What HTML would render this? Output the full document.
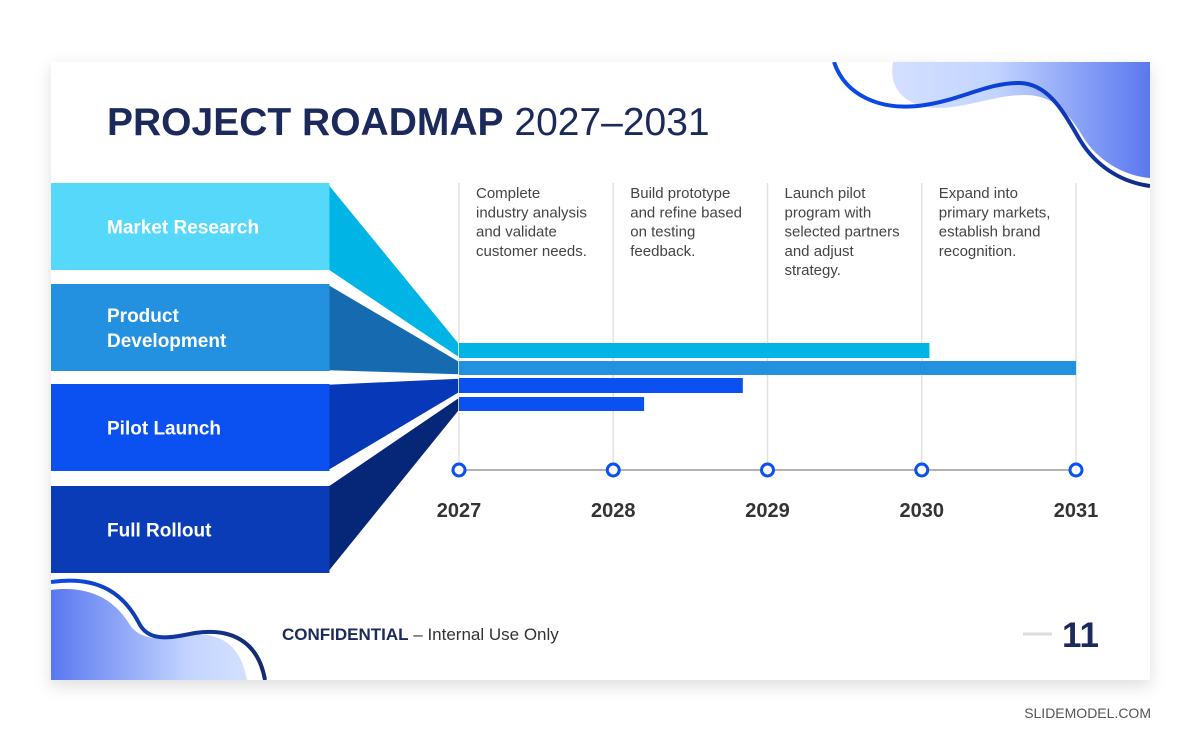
<!DOCTYPE html>
<html><head><meta charset="utf-8"><style>
body{margin:0;width:1200px;height:743px;background:#fff;overflow:hidden;font-family:"Liberation Sans",sans-serif}
svg{display:block}
</style></head><body>
<svg width="1200" height="743" viewBox="0 0 1200 743">
<defs>
<filter id="sh" x="-5%" y="-5%" width="110%" height="115%"><feDropShadow dx="0" dy="6" stdDeviation="8" flood-color="#000" flood-opacity="0.13"/></filter>
<linearGradient id="g1" x1="0" x2="1"><stop offset="0" stop-color="#d3e0ff"/><stop offset="0.4" stop-color="#c3d4ff"/><stop offset="1" stop-color="#5a78f0"/></linearGradient>
<linearGradient id="g2" x1="1" x2="0"><stop offset="0" stop-color="#d3e0ff"/><stop offset="0.3" stop-color="#c3d4ff"/><stop offset="1" stop-color="#5a78f0"/></linearGradient>
<linearGradient id="w1" x1="0" x2="1"><stop offset="0" stop-color="#0c4ae8"/><stop offset="0.6" stop-color="#0c3fd4"/><stop offset="1" stop-color="#142a7a"/></linearGradient>
<linearGradient id="w2" x1="0" x2="1"><stop offset="0" stop-color="#0c4ae8"/><stop offset="1" stop-color="#142a6a"/></linearGradient>
<clipPath id="cl"><rect x="51" y="62" width="1099" height="618"/></clipPath>
</defs>
<rect x="51" y="62" width="1099" height="618" fill="#fff" filter="url(#sh)"/>
<g clip-path="url(#cl)">
<path d="M893 62 C888 88 905 108 940 108 C970 107 995 95 1025 95 C1055 95 1070 115 1085 140 C1100 162 1125 176 1150 178 L1150 62 Z" fill="url(#g1)"/>
<path d="M834 62 C845 95 880 112 925 105 C960 100 990 82 1020 83 C1050 84 1065 115 1080 140 C1095 165 1120 182 1150 186" fill="none" stroke="url(#w1)" stroke-width="4"/>
<path d="M51 590 C90 585 115 600 130 625 C140 640 160 640 180 636 C215 630 240 640 247 680 L51 680 Z" fill="url(#g2)"/>
<path d="M51 582 C100 575 125 595 140 625 C150 642 170 638 195 633 C230 628 258 640 265 680" fill="none" stroke="url(#w2)" stroke-width="4"/>
</g>
<text x="107" y="135" font-size="39" fill="#1b2a5a"><tspan font-weight="bold">PROJECT ROADMAP</tspan> 2027–2031</text>
<g id="chart"></g>
<text x="282" y="640" font-size="17" fill="#1b2a5a"><tspan font-weight="bold">CONFIDENTIAL</tspan><tspan fill="#333"> – Internal Use Only</tspan></text>
<line x1="1023" y1="634" x2="1052" y2="634" stroke="#ddd" stroke-width="3"/>
<text x="1099" y="647" font-size="35" font-weight="bold" fill="#1b2a5a" text-anchor="end">11</text>
<text x="1151" y="718" font-size="14" fill="#555" text-anchor="end">SLIDEMODEL.COM</text>
</svg>
<script>
const years=[2027,2028,2029,2030,2031];
const phases=["Market Research","Product Development","Pilot Launch","Full Rollout"];
const phaseEnd=[2030.05,2031,2028.84,2028.2];
const notes=[["Complete","industry analysis","and validate","customer needs."],["Build prototype","and refine based","on testing","feedback."],["Launch pilot","program with","selected partners","and adjust","strategy."],["Expand into","primary markets,","establish brand","recognition."]];
const NS="http://www.w3.org/2000/svg";
const g=document.getElementById('chart');
const x0=459,x1=1076;
function xs(y){return x0+(y-years[0])/(years[years.length-1]-years[0])*(x1-x0);}
function mk(t,a,p){const e=document.createElementNS(NS,t);for(const k in a)e.setAttribute(k,a[k]);(p||g).appendChild(e);return e;}
const light=["#56d8fb","#2390e0","#0b50f0","#0a3cb8"];
const dark=["#00b4e6","#166bb0","#0638b8","#062678"];
const barCol=["#00b4e6","#2390e0","#0b50f0","#0b50f0"];
const rowTop=[183,284,384,486],rowH=87;
const barTop=[343,361,378,397],barH=[15,14,15,14];
years.forEach((y,i)=>{
  const l=mk('line',{x1:xs(y),x2:xs(y),y1:183,y2:470,stroke:"#e2e2e2","stroke-width":1.5});
  
  
});
notes.forEach((n,i)=>{
  const t=mk('text',{x:xs(years[i])+17,y:198,"font-size":15,fill:"#444"});
  
  
  n.forEach((s,j)=>{const ts=mk('tspan',{x:xs(years[i])+17,dy:j?19.3:0},t);ts.textContent=s;});
});
phases.forEach((p,i)=>{
  const tp=mk('polygon',{points:`328,${rowTop[i]} ${x0},${barTop[i]} ${x0},${barTop[i]+barH[i]} 328,${rowTop[i]+rowH}`,fill:dark[i],stroke:"#fff","stroke-width":1.5,"stroke-linejoin":"bevel"});
  
  
  const r=mk('rect',{x:51,y:rowTop[i],width:278.5,height:rowH,fill:light[i]});
  
  
  const words=p==="Product Development"?["Product","Development"]:[p];
  const t=mk('text',{x:107,y:rowTop[i]+rowH/2+7-(words.length-1)*12.5,"font-size":19,"font-weight":"bold",fill:"#fff"});
  
  
  words.forEach((w,j)=>{const ts=mk('tspan',{x:107,dy:j?25:0},t);ts.textContent=w;});
  const b=mk('rect',{x:x0,y:barTop[i],width:xs(phaseEnd[i])-x0,height:barH[i],fill:barCol[i]});
  
  
});
const ax=mk('line',{x1:x0,x2:x1,y1:470,y2:470,stroke:"#999","stroke-width":1.5});


years.forEach(y=>{
  const c=mk('circle',{cx:xs(y),cy:470,r:6,fill:"#fff",stroke:"#0b50f0","stroke-width":3});
  
  
  const t=mk('text',{x:xs(y),y:517,"font-size":20,"font-weight":"bold",fill:"#333","text-anchor":"middle"});
  t.textContent=y;
  
  
});
</script>
</body></html>
